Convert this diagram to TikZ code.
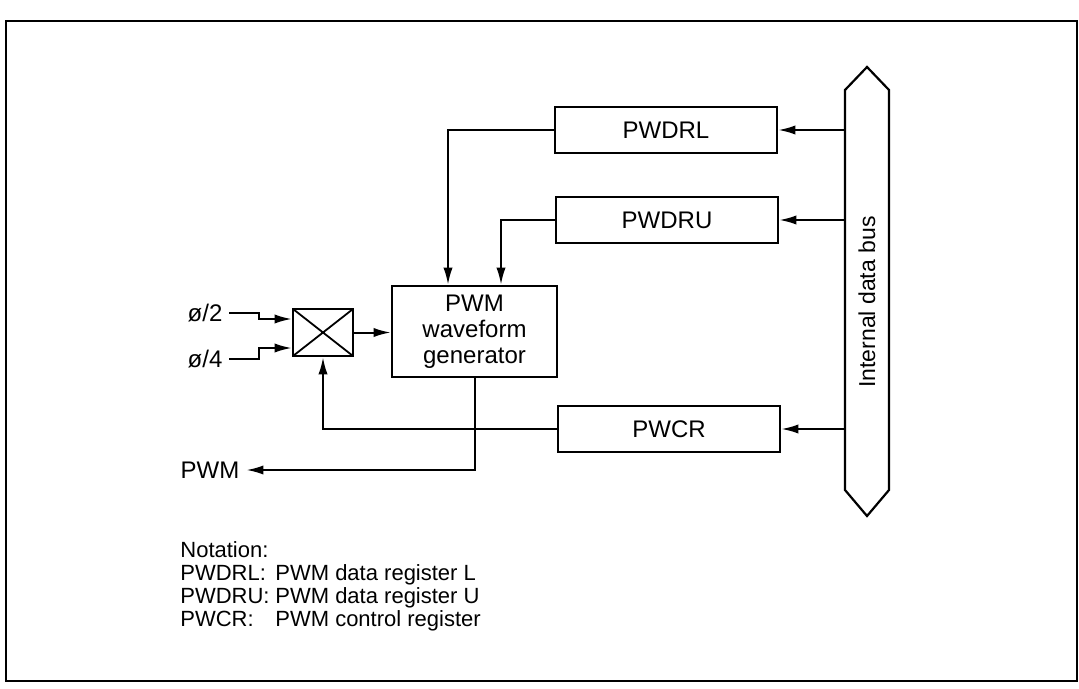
\documentclass[tikz,border=0pt]{standalone}
\usepackage{fontspec}
\setmainfont{Liberation Sans}
\usetikzlibrary{arrows.meta,positioning,calc}
\tikzset{
  reg/.style={draw,line width=1.3pt,minimum width=111pt,minimum height=23pt,
              inner sep=0pt,font=\fontsize{12}{14}\selectfont},
  gen/.style={draw,line width=1.3pt,minimum width=82.5pt,minimum height=45.5pt,
              inner sep=0pt,align=center,font=\fontsize{12}{13}\selectfont},
  mux/.style={draw,line width=1.3pt,minimum width=30pt,minimum height=23.5pt,
              inner sep=0pt,
              path picture={\draw[line width=0.9pt]
                (path picture bounding box.south west) -- (path picture bounding box.north east)
                (path picture bounding box.north west) -- (path picture bounding box.south east);}},
  sig/.style={-{Latex[length=8.5pt,width=4.6pt]},line width=1pt},
  lbl/.style={font=\fontsize{12}{14}\selectfont},
  note/.style={anchor=base west,inner sep=0pt,font=\fontsize{11}{12}\selectfont},
}

\begin{document}
\begin{tikzpicture}[x=0.5pt,y=-0.5pt]
    \useasboundingbox (0,0) rectangle (1079,689);
    % frame
    \draw[line width=1.3pt] (6,21) rectangle (1077,681);
    % registers
    \node[reg] (pwdrl) at (666,130) {PWDRL};
    \node[reg] (pwdru) at (667,220) {PWDRU};
    \node[reg] (pwcr) at (669,429) {PWCR};
    \node[gen] (gen) at (474.5,331.5) {PWM\\waveform\\generator};
    \node[mux] (mux) at (323,332.5) {};
    % internal data bus
    \node[rotate=90,font=\fontsize{11.5}{13}\selectfont] (bus) at (867,302) {Internal data bus};
    \draw[line width=1.1pt] (845,90) -- (867,67) -- (889,90) -- (889,490)
      -- (867,516) -- (845,490) -- cycle;
    \coordinate (busl) at (845,0);
    \draw[sig] (pwdrl.east -| busl) -- (pwdrl.east);
    \draw[sig] (pwdru.east -| busl) -- (pwdru.east);
    \draw[sig] (pwcr.east -| busl) -- (pwcr.east);
    % data registers to generator
    \draw[sig] (pwdrl.west) -| ([xshift=-13.25pt]gen.north);
    \draw[sig] (pwdru.west) -| ([xshift=13.25pt]gen.north);
    % clock select
    \node[lbl] (ph2) at (205,313) {ø/2};
    \node[lbl] (ph4) at (205,359) {ø/4};
    \draw[sig] (ph2.east) -- ++(30,0) |- ([yshift=6.75pt]mux.west);
    \draw[sig] (ph4.east) -- ++(30,0) |- ([yshift=-7.75pt]mux.west);
    \draw[sig] (mux.east) -- (mux.east -| gen.west);
    \draw[sig] (pwcr.west) -| (mux.south);
    % output
    \node[lbl] (pwm) at (210,470) {PWM};
    \draw[sig] (gen.south) |- (pwm.east);
    % notation
    \node[note] (nhead) at (180,557) {Notation:};
    \node[note] (nl) at (180,580) {PWDRL:};
    \node[note] (nu) at (180,603) {PWDRU:};
    \node[note] (nc) at (180,626) {PWCR:};
    \node[note] (nldesc) at (275,580) {PWM data register L};
    \node[note] (nudesc) at (275,603) {PWM data register U};
    \node[note] (ncdesc) at (275,626) {PWM control register};
  \end{tikzpicture}
\end{document}
